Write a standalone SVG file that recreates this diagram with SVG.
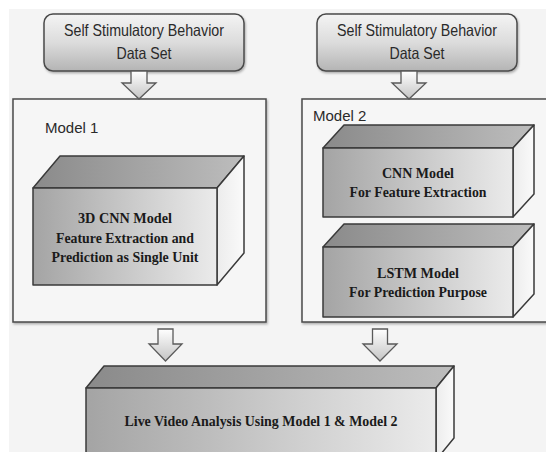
<svg xmlns="http://www.w3.org/2000/svg" width="546" height="452" viewBox="0 0 546 452">
  <defs>
    <linearGradient id="gTop" x1="0" y1="0" x2="0" y2="1">
      <stop offset="0" stop-color="#f4f4f4"/>
      <stop offset="0.5" stop-color="#dcdcdc"/>
      <stop offset="1" stop-color="#b4b4b4"/>
    </linearGradient>
    <linearGradient id="gArrow" x1="0" y1="0" x2="0" y2="1">
      <stop offset="0" stop-color="#ffffff"/>
      <stop offset="1" stop-color="#c4c4c4"/>
    </linearGradient>
    <linearGradient id="gFront" x1="0" y1="0" x2="1" y2="0">
      <stop offset="0" stop-color="#a4a4a4"/>
      <stop offset="1" stop-color="#ebebeb"/>
    </linearGradient>
    <linearGradient id="gRoof" x1="0" y1="0" x2="1" y2="0">
      <stop offset="0" stop-color="#8a8a8a"/>
      <stop offset="1" stop-color="#bdbdbd"/>
    </linearGradient>
    <linearGradient id="gSide" x1="0" y1="0" x2="1" y2="0">
      <stop offset="0" stop-color="#ececec"/>
      <stop offset="1" stop-color="#fafafa"/>
    </linearGradient>
    <filter id="sh" x="-10%" y="-10%" width="130%" height="130%">
      <feDropShadow dx="1" dy="1.5" stdDeviation="1" flood-color="#000" flood-opacity="0.3"/>
    </filter>
  </defs>
  <style>
    .bg { fill: #f4f4f4; }
    .start { fill: url(#gTop); stroke: #4a4a4a; stroke-width: 1.5; filter: url(#sh); }
    .frame { fill: #f6f6f6; stroke: #4a4a4a; stroke-width: 1.5; filter: url(#sh); }
    .front { fill: url(#gFront); stroke: #3a3a3a; stroke-width: 1.5; stroke-linejoin: round; }
    .roof { fill: url(#gRoof); stroke: #3a3a3a; stroke-width: 1.5; stroke-linejoin: round; }
    .side { fill: url(#gSide); stroke: #3a3a3a; stroke-width: 1.5; stroke-linejoin: round; }
    .arrow { fill: url(#gArrow); stroke: #5a5a5a; stroke-width: 1.3; stroke-linejoin: miter; }
    .sans { font-family: "Liberation Sans", Arial, sans-serif; fill: #2a2a2a; }
    .lbl { font-size: 16.5px; text-anchor: middle; }
    .mdl { font-size: 15px; }
    .serif { font-family: "Liberation Serif", "Times New Roman", serif; font-weight: bold; font-size: 15px; fill: #1a1a1a; text-anchor: middle; }
  </style>

  <rect class="bg" x="9" y="9" width="537" height="443"/>

  <g id="dataset1">
    <rect class="start" x="44" y="14" width="200" height="57" rx="9"/>
    <text class="sans lbl" x="144" y="36" textLength="160" lengthAdjust="spacingAndGlyphs">Self Stimulatory Behavior</text>
    <text class="sans lbl" x="144" y="58.5" textLength="55" lengthAdjust="spacingAndGlyphs">Data Set</text>
  </g>

  <g id="dataset2">
    <rect class="start" x="317" y="14" width="200" height="57" rx="9"/>
    <text class="sans lbl" x="417" y="36" textLength="160" lengthAdjust="spacingAndGlyphs">Self Stimulatory Behavior</text>
    <text class="sans lbl" x="417" y="58.5" textLength="55" lengthAdjust="spacingAndGlyphs">Data Set</text>
  </g>

  <g id="model1">
    <rect class="frame" x="13" y="99" width="253" height="223"/>
    <text class="sans mdl" x="45" y="133">Model 1</text>
  </g>

  <g id="model2">
    <rect class="frame" x="302" y="99" width="260" height="223"/>
    <text class="sans mdl" x="313" y="121">Model 2</text>
  </g>

  <g id="cnn3d">
    <polygon class="roof" points="33,188 60,156 244,156 217,188"/>
    <polygon class="side" points="217,188 244,156 244,253 217,285"/>
    <rect class="front" x="33" y="188" width="184" height="97"/>
    <text class="serif" x="125" y="222.5" textLength="94" lengthAdjust="spacingAndGlyphs">3D CNN Model</text>
    <text class="serif" x="125" y="242.5" textLength="138" lengthAdjust="spacingAndGlyphs">Feature Extraction and</text>
    <text class="serif" x="125" y="262.3" textLength="147" lengthAdjust="spacingAndGlyphs">Prediction as Single Unit</text>
  </g>

  <g id="cnn">
    <polygon class="roof" points="323,148 344,125 534,125 513,148"/>
    <polygon class="side" points="513,148 534,125 534,194 513,217"/>
    <rect class="front" x="323" y="148" width="190" height="69"/>
    <text class="serif" x="418" y="178" textLength="72" lengthAdjust="spacingAndGlyphs">CNN Model</text>
    <text class="serif" x="418" y="197" textLength="137" lengthAdjust="spacingAndGlyphs">For Feature Extraction</text>
  </g>

  <g id="lstm">
    <polygon class="roof" points="323,247 344,224 534,224 513,247"/>
    <polygon class="side" points="513,247 534,224 534,294 513,317"/>
    <rect class="front" x="323" y="247" width="190" height="70"/>
    <text class="serif" x="418" y="277.7" textLength="82" lengthAdjust="spacingAndGlyphs">LSTM Model</text>
    <text class="serif" x="418" y="296.7" textLength="138" lengthAdjust="spacingAndGlyphs">For Prediction Purpose</text>
  </g>

  <g id="live">
    <polygon class="roof" points="86,388 104,366 454,366 436,388"/>
    <polygon class="side" points="436,388 454,366 454,438 436,460"/>
    <rect class="front" x="86" y="388" width="350" height="72"/>
    <text class="serif" x="261" y="426" textLength="273" lengthAdjust="spacingAndGlyphs">Live Video Analysis Using Model 1 &amp; Model 2</text>
  </g>

  <g id="connectors">
    <path class="arrow" d="M131,71 H147 V83 H156 L139,99 L122,83 H131 Z"/>
    <path class="arrow" d="M401,71 H417 V83 H426 L409,99 L392,83 H401 Z"/>
    <path class="arrow" d="M158,329 H173 V344 H182 L165.5,361 L149,344 H158 Z"/>
    <path class="arrow" d="M372.5,329 H387.5 V344 H397 L380,361 L363,344 H372.5 Z"/>
  </g>
</svg>
